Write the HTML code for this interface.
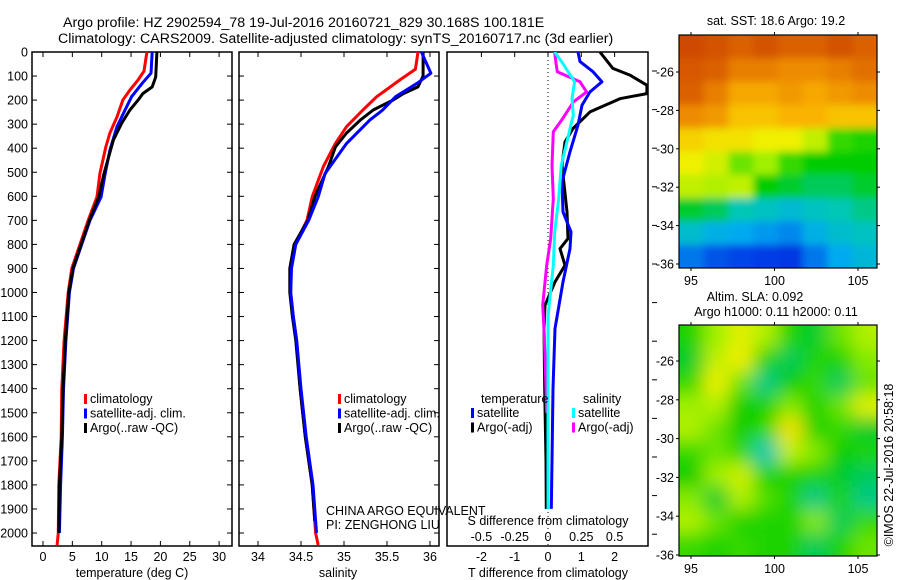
<!DOCTYPE html>
<html><head><meta charset="utf-8"><style>
html,body{margin:0;padding:0;background:#fff;}
svg{display:block;font-family:"Liberation Sans",sans-serif;}
text{font-size:12.5px;fill:#000;}
</style></head><body>
<svg id="chart" width="900" height="580" viewBox="0 0 900 580" xmlns="http://www.w3.org/2000/svg">
<defs>
<filter id="blur1" x="-5%" y="-5%" width="110%" height="110%"><feGaussianBlur stdDeviation="4"/></filter>
<filter id="blur2" x="-5%" y="-5%" width="110%" height="110%"><feGaussianBlur stdDeviation="9"/></filter>
<clipPath id="clipSST"><rect x="679" y="35" width="198" height="233"/></clipPath>
<clipPath id="clipSLA"><rect x="679" y="325" width="198" height="231"/></clipPath>
<clipPath id="clipP3"><rect x="447" y="52" width="201" height="494"/></clipPath>
</defs>
<text x="63" y="27" style="font-size:14.2px">Argo profile: HZ 2902594_78 19-Jul-2016 20160721_829 30.168S 100.181E</text>
<text x="58" y="43" style="font-size:14.2px">Climatology: CARS2009. Satellite-adjusted climatology: synTS_20160717.nc (3d earlier)</text>
<g id="g"></g>
</svg>
<script>
// ---- data ----
const depthRed = [0,80,116,158,200,270,337,395,505,602,700,800,900,1000,1200,1400,1600,1800,2000,2050];
const tempRed  = [17.7,17.2,16.2,14.8,13.6,12.6,11.4,10.7,9.7,9.2,7.7,6.3,4.9,4.3,3.6,3.2,3.1,2.7,2.6,2.4];
const depthBlue= [0,88,130,186,240,310,408,505,602,700,800,900,1000,1200,1400,1600,1800,2000];
const tempBlue = [18.6,18.4,16.9,15.1,14.0,12.6,11.4,10.6,9.9,8.0,6.6,5.2,4.5,3.9,3.5,3.3,3.0,2.8];
const depthBlk = [0,104,145,173,200,241,296,366,505,602,700,800,900,1000,1200,1400,1600,1800,2000];
const tempBlk  = [19.4,19.2,18.6,17.0,16.2,14.8,13.4,12.0,10.4,9.5,7.9,6.5,5.1,4.4,3.8,3.4,3.2,2.8,2.7];

const salDRed  = [0,72,116,186,241,310,380,476,602,700,800,900,1000,1100,1200,1400,1600,1800,2000,2050];
const salRed   = [35.86,35.83,35.65,35.38,35.22,35.03,34.90,34.76,34.63,34.57,34.43,34.38,34.38,34.41,34.45,34.49,34.55,34.63,34.67,34.70];
const salDBlue = [0,88,130,186,241,283,380,505,602,700,800,900,1000,1100,1200,1400,1600,1800,2000];
const salBlue  = [35.90,36.01,35.85,35.60,35.45,35.30,35.03,34.78,34.70,34.59,34.44,34.39,34.38,34.41,34.45,34.50,34.56,34.64,34.68];
const salDBlk  = [0,100,145,173,200,241,283,337,395,476,602,700,800,900,1000,1100,1200,1400,1600,1800,1950];
const salBlk   = [35.92,35.92,35.86,35.69,35.57,35.34,35.19,35.03,34.90,34.82,34.66,34.58,34.42,34.37,34.37,34.40,34.44,34.49,34.55,34.63,34.66];

const dTsatD = [0,40,82,124,166,221,304,415,540,665,748,818,956,1150,1400,1700,1900];
const dTsat  = [0.9,0.96,1.35,1.62,1.26,1.02,0.9,0.66,0.42,0.45,0.69,0.66,0.45,0.21,0.15,0.12,0.1];
const dTargD = [0,68,96,138,173,194,249,318,374,471,665,776,818,887,956,1053,1150,1400,1700,1900];
const dTarg  = [1.56,1.95,2.46,2.97,2.97,2.16,1.26,0.75,0.51,0.42,0.57,0.6,0.36,0.51,0.21,-0.09,-0.12,-0.1,-0.06,-0.05];
const dSsatD = [0,47,124,194,263,332,471,609,748,887,1100,1400,1700,1900];
const dSsat  = [0.05,0.11,0.2,0.18,0.19,0.16,0.1,0.08,0.05,0.04,0.0,0.0,0.0,0.0];
const dSargD = [0,47,82,124,166,208,277,332,471,609,776,887,1053,1150,1300,1500];
const dSarg  = [0.05,0.06,0.07,0.24,0.29,0.19,0.11,0.04,0.03,0.04,0.02,-0.01,-0.04,-0.03,-0.02,-0.01];

const depthTicks = [0,100,200,300,400,500,600,700,800,900,1000,1100,1200,1300,1400,1500,1600,1700,1800,1900,2000];
const tempTicks = [0,5,10,15,20,25,30];
const salTicks = [34,34.5,35,35.5,36];
const salTickLabels = ["34","34.5","35","35.5","36"];
const dTTicks = [-2,-1,0,1,2];
const dSTicks = [-0.5,-0.25,0,0.25,0.5];
const dSTickLabels = ["-0.5","-0.25","0","0.25","0.5"];
const lonTicks = [95,100,105];
const latTicks = [-26,-28,-30,-32,-34,-36];

const sstGrid = [
 [0.93,0.92,0.90,0.92,0.90,0.90,0.92,0.90],
 [0.91,0.90,0.86,0.86,0.84,0.84,0.86,0.88],
 [0.90,0.86,0.80,0.80,0.82,0.80,0.82,0.84],
 [0.84,0.82,0.76,0.76,0.78,0.78,0.76,0.76],
 [0.74,0.72,0.72,0.70,0.70,0.64,0.52,0.50],
 [0.70,0.66,0.56,0.60,0.52,0.48,0.48,0.48],
 [0.64,0.62,0.64,0.48,0.46,0.44,0.44,0.46],
 [0.46,0.44,0.40,0.38,0.35,0.38,0.40,0.42],
 [0.36,0.32,0.30,0.28,0.26,0.32,0.36,0.38],
 [0.24,0.20,0.18,0.17,0.16,0.24,0.30,0.34]
];
const slaGrid = [
 [0.50,0.60,0.68,0.62,0.50,0.46,0.56,0.62],
 [0.46,0.64,0.70,0.50,0.44,0.50,0.50,0.58],
 [0.52,0.70,0.56,0.42,0.48,0.52,0.44,0.56],
 [0.60,0.62,0.48,0.50,0.58,0.50,0.56,0.68],
 [0.62,0.56,0.48,0.52,0.72,0.50,0.52,0.46],
 [0.52,0.56,0.52,0.40,0.64,0.58,0.48,0.50],
 [0.48,0.60,0.66,0.50,0.50,0.50,0.46,0.44],
 [0.58,0.46,0.62,0.54,0.50,0.42,0.50,0.42],
 [0.62,0.56,0.50,0.50,0.50,0.58,0.44,0.52],
 [0.52,0.50,0.52,0.50,0.50,0.44,0.50,0.56]
];

// ---- helpers ----
const NS="http://www.w3.org/2000/svg";
const G=document.getElementById('g');
function el(tag,attrs,parent){const e=document.createElementNS(NS,tag);for(const k in attrs)e.setAttribute(k,attrs[k]);(parent||G).appendChild(e);return e;}
const yD = d => 52 + d*0.2405;
const xT = t => 43 + t*5.87;
const xS = s => 258 + (s-34)*86;
const xDT = t => 548 + t*33.3;
const xDS = s => 548 + s*133.2;

function frame(x0,x1,name){
  const r=el('rect',{x:x0,y:52,width:x1-x0,height:494,fill:'none',stroke:'#000','stroke-width':1.5});
  
  
}
function profile(depths,vals,xf,color,name,clip){
  const pts=[];
  for(let i=0;i<depths.length;i++){
    pts.push(xf(vals[i]).toFixed(1)+','+yD(depths[i]).toFixed(1));
  }
  const a={points:pts.join(' '),fill:'none',stroke:color,'stroke-width':3,'stroke-linejoin':'round'};
  if(clip)a['clip-path']='url(#'+clip+')';
  const p=el('polyline',a);
  
  
}
function txt(x,y,s,anchor,name,extra){
  const t=el('text',Object.assign({x:x,y:y,'text-anchor':anchor||'start'},extra||{}));
  t.textContent=s;
  
  
  return t;
}

// ---- panel 1 temperature ----
frame(32,232,'temperature-plot-frame');
depthTicks.forEach(d=>{
  const y=yD(d);
  el('line',{x1:32,y1:y,x2:37,y2:y,stroke:'#000'});
  el('line',{x1:227,y1:y,x2:232,y2:y,stroke:'#000'});
  txt(28,y+4.5,String(d),'end','depth-tick-label');
});
tempTicks.forEach(t=>{
  const x=xT(t);
  el('line',{x1:x,y1:52,x2:x,y2:57,stroke:'#000'});
  el('line',{x1:x,y1:541,x2:x,y2:546,stroke:'#000'});
  txt(x,561,String(t),'middle','temperature-tick-label');
});
txt(132,577,'temperature (deg C)','middle','temperature-axis-title');
profile(depthRed,tempRed,xT,'#f00','temp-climatology-line');
profile(depthBlue,tempBlue,xT,'#00f','temp-satellite-line');
profile(depthBlk,tempBlk,xT,'#000','temp-argo-line');

function legend(x,y,items,name){
  items.forEach((it,i)=>{
    const r=el('rect',{x:x,y:y+i*14.5-9,width:3,height:10,fill:it[0]});
    
    
    txt(x+6,y+i*14.5,it[1],'start',name+'-entry');
  });
}
legend(84,403,[['#f00','climatology'],['#00f','satellite-adj. clim.'],['#000','Argo(..raw -QC)']],'temp-legend');

// ---- panel 2 salinity ----
frame(239,439,'salinity-plot-frame');
depthTicks.forEach(d=>{
  const y=yD(d);
  el('line',{x1:239,y1:y,x2:244,y2:y,stroke:'#000'});
  el('line',{x1:434,y1:y,x2:439,y2:y,stroke:'#000'});
});
salTicks.forEach((s,i)=>{
  const x=xS(s);
  el('line',{x1:x,y1:52,x2:x,y2:57,stroke:'#000'});
  el('line',{x1:x,y1:541,x2:x,y2:546,stroke:'#000'});
  txt(x,561,salTickLabels[i],'middle','salinity-tick-label');
});
txt(338,577,'salinity','middle','salinity-axis-title');
profile(salDRed,salRed,xS,'#f00','sal-climatology-line');
profile(salDBlk,salBlk,xS,'#000','sal-argo-line');
profile(salDBlue,salBlue,xS,'#00f','sal-satellite-line');
legend(338,403,[['#f00','climatology'],['#00f','satellite-adj. clim.'],['#000','Argo(..raw -QC)']],'sal-legend');
txt(326,515,'CHINA ARGO EQUIVALENT','start','institution-label');
txt(326,529,'PI: ZENGHONG LIU','start','pi-label');

// ---- panel 3 differences ----
frame(447,648,'difference-plot-frame');
el('line',{x1:548,y1:52,x2:548,y2:546,stroke:'#000','stroke-width':1,'stroke-dasharray':'1,3'});
for(let y=71;y<=556;y+=38.6){el('line',{x1:652,y1:y,x2:657,y2:y,stroke:'#000'});}
dTTicks.forEach(t=>{
  const x=xDT(t);
  el('line',{x1:x,y1:52,x2:x,y2:57,stroke:'#000'});
  txt(x,561,String(t),'middle','dT-tick-label');
});
dSTicks.forEach((s,i)=>{
  txt(xDS(s),541,dSTickLabels[i],'middle','dS-tick-label');
});
txt(548,577,'T difference from climatology','middle','dT-axis-title');
txt(548,525,'S difference from climatology','middle','dS-axis-title');
profile(dTargD,dTarg,xDT,'#000','dT-argo-line','clipP3');
profile(dTsatD,dTsat,xDT,'#00f','dT-satellite-line','clipP3');
profile(dSargD,dSarg,xDS,'#f0f','dS-argo-line','clipP3');
profile(dSsatD,dSsat,xDS,'#0ff','dS-satellite-line','clipP3');
txt(481,403,'temperature','start','dT-legend-heading');
txt(583,403,'salinity','start','dS-legend-heading');
legend(471,417,[['#00f','satellite'],['#000','Argo(-adj)']],'dT-legend');
legend(572,417,[['#0ff','satellite'],['#f0f','Argo(-adj)']],'dS-legend');

// ---- maps ----
function jet(v){
  const stops=[[0,[0,0,140]],[0.17,[0,60,230]],[0.3,[0,170,240]],[0.4,[0,200,180]],[0.48,[0,205,0]],[0.6,[160,240,0]],[0.7,[240,240,0]],[0.78,[250,180,0]],[0.87,[230,120,0]],[1,[180,20,0]]];
  for(let i=1;i<stops.length;i++){if(v<=stops[i][0]){const a=stops[i-1],b=stops[i],f=(v-a[0])/(b[0]-a[0]);return 'rgb('+a[1].map((c,k)=>Math.round(c+(b[1][k]-c)*f)).join(',')+')';}}
  return 'rgb(180,20,0)';
}
function map(grid,x0,y0,w,h,clip,filt,name){
  const grp=el('g',{'clip-path':'url(#'+clip+')'});
  
  
  const inner=el('g',{filter:'url(#'+filt+')'},grp);
  const rows=grid.length, cols=grid[0].length, cw=w/cols, ch=h/rows;
  el('rect',{x:x0-20,y:y0-20,width:w+40,height:h+40,fill:jet(grid[rows-1][0])},inner);
  for(let r=-1;r<=rows;r++)for(let c=-1;c<=cols;c++){
    const rr=Math.min(Math.max(r,0),rows-1), cc=Math.min(Math.max(c,0),cols-1);
    const cell=el('rect',{x:x0+c*cw,y:y0+r*ch,width:cw+0.5,height:ch+0.5,fill:jet(grid[rr][cc])},inner);
    
    
  }
  const f=el('rect',{x:x0,y:y0,width:w,height:h,fill:'none',stroke:'#000','stroke-width':1.2});
  
  
}
const lonX = l => 691 + (l-95)*16.7;
map(sstGrid,679,35,198,233,'clipSST','blur1','sst-map');
txt(776,25,'sat. SST: 18.6 Argo: 19.2','middle','sst-map-title');
map(slaGrid,679,325,198,231,'clipSLA','blur2','sla-map');
txt(755,301,'Altim. SLA: 0.092','middle','sla-map-title-1');
txt(776,316,'Argo h1000: 0.11 h2000: 0.11','middle','sla-map-title-2');
function mapAxes(yTop,yBot,latY,pref){
  lonTicks.forEach(l=>{
    const x=lonX(l);
    el('line',{x1:x,y1:yTop-3,x2:x,y2:yTop,stroke:'#000'});
    el('line',{x1:x,y1:yBot,x2:x,y2:yBot+3,stroke:'#000'});
    txt(x,yBot+17,String(l),'middle',pref+'-lon-tick-label');
  });
  latTicks.forEach(l=>{
    const y=latY(l);
    el('line',{x1:676,y1:y,x2:679,y2:y,stroke:'#000'});
    el('line',{x1:877,y1:y,x2:880,y2:y,stroke:'#000'});
    txt(674,y+4.5,String(l),'end',pref+'-lat-tick-label');
  });
}
mapAxes(35,268,l=>72+(-26-l)*19.2,'sst');
mapAxes(325,556,l=>361+(-26-l)*19.4,'sla');
txt(0,0,'\u00a9IMOS 22-Jul-2016 20:58:18','middle','imos-credit',{transform:'translate(893,465) rotate(-90)'});
</script>
</body></html>
